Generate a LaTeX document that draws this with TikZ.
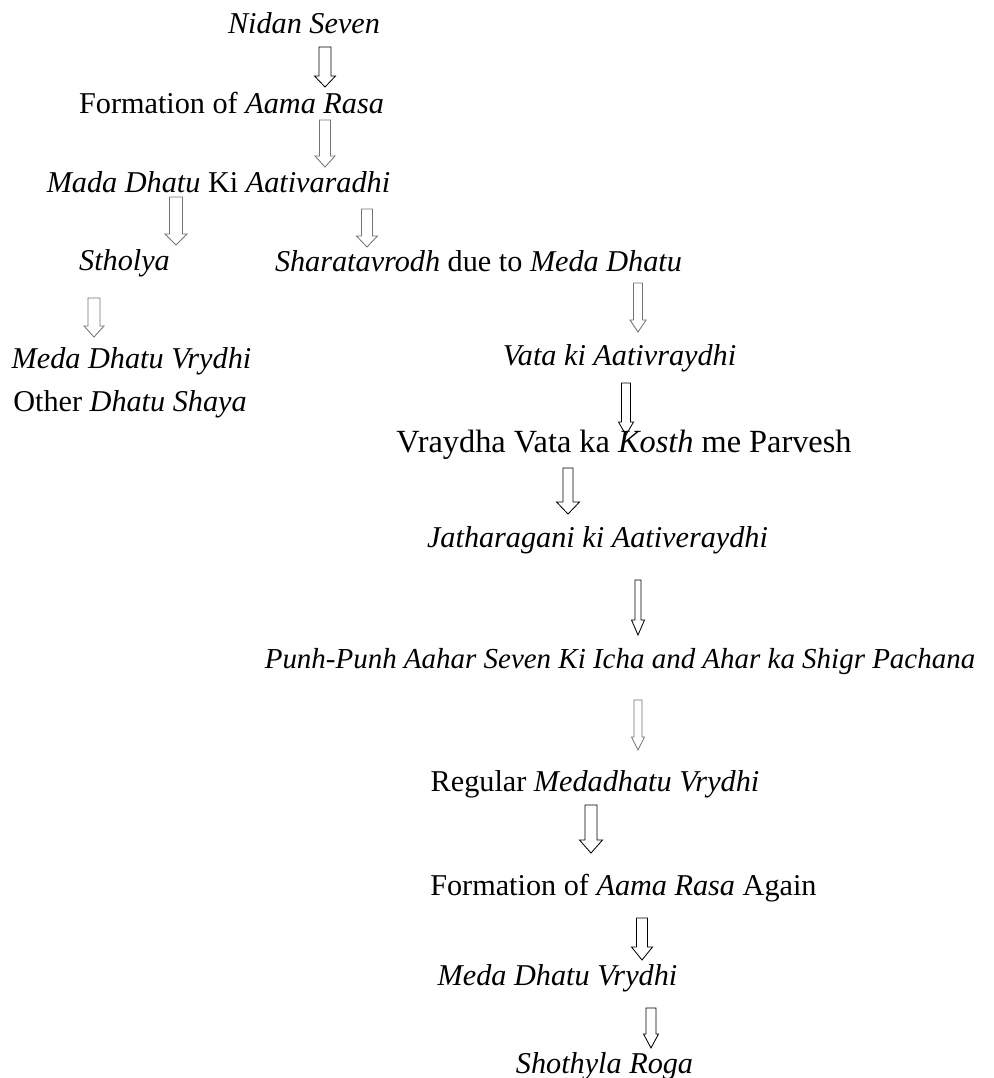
\documentclass[tikz,border=0pt]{standalone}
\usepackage{fontspec}
\setmainfont{Liberation Serif}
\usepackage{tikz}
\usetikzlibrary{calc}

\tikzset{
  stage/.style={anchor=base, inner sep=0pt, font=\fontsize{21.5}{26}\selectfont},
  hollow/.style={draw=black, line width=0.6pt, line join=miter},
  faded/.style={draw=black!55}
}
\def\pxu{0.7113pt}
% open block arrow: [style]{top}{tip}{shaft half width}{head half width}{head length}
\newcommand{\hollowarrow}[6][]{%
  \draw[hollow,#1] let \p1=(#2), \p2=(#3) in
    (\x1-#4*\pxu,\y1) -- (\x1+#4*\pxu,\y1) -- (\x1+#4*\pxu,\y2+#6*\pxu)
    -- (\x1+#5*\pxu,\y2+#6*\pxu) -- (\x2,\y2) -- (\x1-#5*\pxu,\y2+#6*\pxu)
    -- (\x1-#4*\pxu,\y2+#6*\pxu) -- cycle;}

\begin{document}
\begin{tikzpicture}[x=0.025cm, y=-0.025cm]
    \useasboundingbox (0,0) rectangle (993,1078);

    % Main chain
    \node [stage] (nidan) at (304,33) {\textit{Nidan Seven}};
    \node [stage] (aama) at (231.5,113) {Formation of \textit{Aama Rasa}};
    \node [stage] (mada) at (218.5,192) {\textit{Mada Dhatu} Ki \textit{Aativaradhi}};

    % Left branch
    \node [stage] (stholya) at (124.5,270) {\textit{Stholya}};
    \node [stage] (medavr) at (131.5,368) {\textit{Meda Dhatu Vrydhi}};
    \node [stage] (otherdh) at (130,411) {Other \textit{Dhatu Shaya}};

    % Right branch
    \node [stage] (sharat) at (478.5,271) {\textit{Sharatavrodh} due to \textit{Meda Dhatu}};
    \node [stage] (vata) at (619.5,365) {\textit{Vata ki Aativraydhi}};
    \node [stage, font=\fontsize{23}{27}\selectfont] (kosth) at (624,452) {Vraydha Vata ka \textit{Kosth} me Parvesh};
    \node [stage] (jathar) at (597.5,547) {\textit{Jatharagani ki Aativeraydhi}};
    \node [stage, font=\fontsize{20.6}{25}\selectfont] (punh) at (620,668) {\textit{Punh-Punh Aahar Seven Ki Icha and Ahar ka Shigr Pachana}};
    \node [stage] (regular) at (595,791) {Regular \textit{Medadhatu Vrydhi}};
    \node [stage, anchor=base west] (aamaagain) at (430,895) {Formation of \textit{Aama Rasa} Again};
    \node [stage] (medaagain) at (557.5,985) {\textit{Meda Dhatu Vrydhi}};
    \node [stage] (shothyla) at (604.5,1073) {\textit{Shothyla Roga}};

    % Arrow ends
    \coordinate (a1top) at (325,47);   \coordinate (a1tip) at (325,87);
    \coordinate (a2top) at (325,120);  \coordinate (a2tip) at (325,167);
    \coordinate (a3top) at (176,197);  \coordinate (a3tip) at (176,245);
    \coordinate (a4top) at (367,209);  \coordinate (a4tip) at (367,247);
    \coordinate (a5top) at (94,298);   \coordinate (a5tip) at (94,337);
    \coordinate (a6top) at (638,283);  \coordinate (a6tip) at (638,332);
    \coordinate (a7top) at (626,383);  \coordinate (a7tip) at (626,435);
    \coordinate (a8top) at (568,468);  \coordinate (a8tip) at (568,514);
    \coordinate (a9top) at (638,580);  \coordinate (a9tip) at (638,635);
    \coordinate (a10top) at (638,700); \coordinate (a10tip) at (638,750);
    \coordinate (a11top) at (591,805); \coordinate (a11tip) at (591,853);
    \coordinate (a12top) at (642,918); \coordinate (a12tip) at (642,960);
    \coordinate (a13top) at (651,1008); \coordinate (a13tip) at (651,1048);

    % Arrows
    \hollowarrow{a1top}{a1tip}{6}{10.5}{11}
    \hollowarrow[faded]{a2top}{a2tip}{5.5}{10}{11}
    \hollowarrow[faded]{a3top}{a3tip}{6.5}{11}{11}
    \hollowarrow[faded]{a4top}{a4tip}{5.5}{10.5}{11}
    \hollowarrow[faded]{a5top}{a5tip}{6}{10}{11}
    \hollowarrow[faded]{a6top}{a6tip}{4.5}{8}{12}
    \hollowarrow{a7top}{a7tip}{4.5}{7.5}{13}
    \hollowarrow{a8top}{a8tip}{5}{11.5}{12}
    \hollowarrow{a9top}{a9tip}{3}{6.5}{15}
    \hollowarrow[faded]{a10top}{a10tip}{4}{6.5}{13}
    \hollowarrow{a11top}{a11tip}{6}{11.5}{13}
    \hollowarrow{a12top}{a12tip}{5.5}{10.5}{13}
    \hollowarrow{a13top}{a13tip}{5}{7.5}{14}

\end{tikzpicture}
\end{document}
